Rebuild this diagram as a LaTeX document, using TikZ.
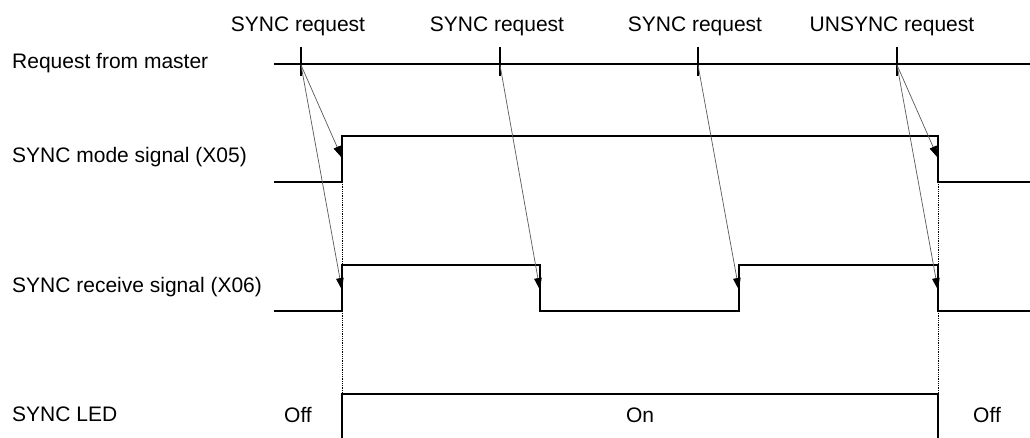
\documentclass[tikz,border=0pt]{standalone}
\usepackage{fontspec}
\setmainfont{Liberation Sans}
\usetikzlibrary{positioning, arrows.meta, calc}

\begin{document}
\begin{tikzpicture}[x=1pt, y=-1pt,
        signal/.style={line width=2pt, line join=miter},
        trigger/.style={draw=black!65, line width=0.7pt, -{Triangle[length=12pt, width=7.5pt, color=black]}},
        guide/.style={densely dotted, line width=0.8pt},
        lbl/.style={inner sep=0pt, font=\fontsize{21}{25}\selectfont}]
        \useasboundingbox (0,0) rectangle (1030,438);

        % Row labels on the left
        \node[lbl, anchor=west] (reqlbl)  at (12,63)  {Request from master};
        \node[lbl, anchor=west] (modelbl) at (12,157) {SYNC mode signal (X05)};
        \node[lbl, anchor=west] (rcvlbl)  at (12,287) {SYNC receive signal (X06)};
        \node[lbl, anchor=west] (ledlbl)  at (12,414) {SYNC LED};

        % Request line with its ticks
        \draw[signal] (274,64) -- (1030,64);
        \foreach \x/\name in {301/req1, 500/req2, 698/req3, 897/req4} {
            \coordinate (\name) at (\x,65);
            \draw[signal] (\x,47) -- (\x,76);
        }
        \node[lbl] (reqtxt1) at (298,26) {SYNC request};
        \node[lbl] (reqtxt2) at (497,26) {SYNC request};
        \node[lbl] (reqtxt3) at (695,26) {SYNC request};
        \node[lbl] (reqtxt4) at (892,26) {UNSYNC request};

        % SYNC mode signal
        \draw[signal] (274,182) -- (342,182) -- (342,136) -- (938,136) -- (938,182) -- (1030,182);
        \coordinate (modeup) at (342,158);
        \coordinate (modedn) at (938,158);

        % SYNC receive signal
        \draw[signal] (274,311) -- (342,311) -- (342,265) -- (540,265) -- (540,311)
            -- (739,311) -- (739,265) -- (938,265) -- (938,311) -- (1030,311);
        \coordinate (rcvup1) at (342,290);
        \coordinate (rcvdn1) at (540,290);
        \coordinate (rcvup2) at (739,290);
        \coordinate (rcvdn2) at (938,290);

        % SYNC LED
        \draw[signal] (342,438) -- (342,394) -- (938,394) -- (938,438);
        \node[lbl] (ledoff1) at (298,415) {Off};
        \node[lbl] (ledon)   at (640,415) {On};
        \node[lbl] (ledoff2) at (987,415) {Off};

        % Dotted guides
        \foreach \x in {342, 938} {
            \draw[guide] (\x,182) -- (\x,265);
            \draw[guide] (\x,311) -- (\x,394);
        }

        % Request arrows
        \draw[trigger] (req1) -- (modeup);
        \draw[trigger] (req1) -- (rcvup1);
        \draw[trigger] (req2) -- (rcvdn1);
        \draw[trigger] (req3) -- (rcvup2);
        \draw[trigger] (req4) -- (modedn);
        \draw[trigger] (req4) -- (rcvdn2);
\end{tikzpicture}
\end{document}
